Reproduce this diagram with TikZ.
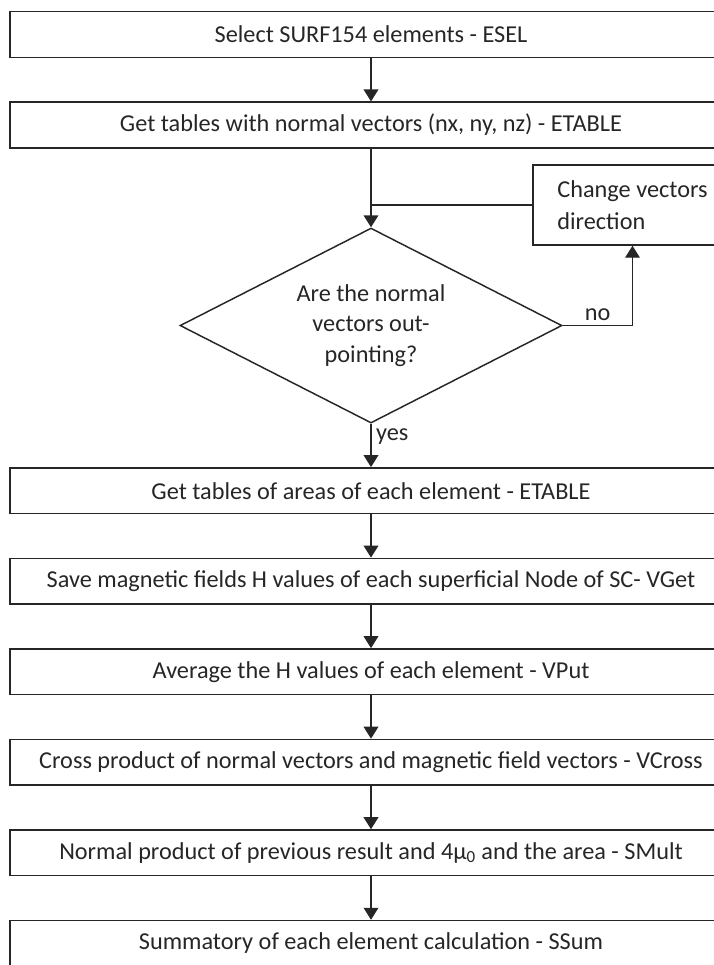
\documentclass[tikz,border=0pt]{standalone}
\usepackage{fontspec}
\setmainfont{Carlito}
\usetikzlibrary{positioning, arrows.meta, shapes.geometric}

\begin{document}
\begin{tikzpicture}[
    x=0.75pt, y=-0.75pt,
    node distance=32.5pt,
    block/.style={draw=black!85, line width=1.1pt, minimum height=34.3pt, minimum width=541.5pt, inner sep=3pt, font=\fontsize{18.2}{22}\selectfont, text=black!85},
    decision/.style={draw=black!85, line width=1.1pt, diamond, aspect=1.96, minimum width=286.5pt, minimum height=146.25pt, inner sep=0pt, align=center, font=\fontsize{18.2}{23}\selectfont, text=black!85},
    sidebox/.style={block, minimum width=149.25pt, minimum height=60pt, inner xsep=17pt, align=left, font=\fontsize{18.2}{24}\selectfont},
    arr/.style={-{Triangle[length=9pt, width=11pt]}, line width=1.1pt, draw=black!85},
    lbl/.style={font=\fontsize{18.2}{22}\selectfont, text=black!85},
  ]
    \clip (0,0) rectangle (714,965);

    % Steps down the page
    \node[block] (esel) at (371,34.5) {Select SURF154 elements - ESEL};
    \node[block, below=of esel] (normals) {Get tables with normal vectors (nx, ny, nz) - ETABLE};
    \node[decision, below=59pt of normals] (check) {Are the normal\\ vectors out-\\ pointing?};
    \node[block, below=of check] (areas) {Get tables of areas of each element - ETABLE};
    \node[block, below=of areas] (vget) {Save magnetic fields H values of each superficial Node of SC- VGet};
    \node[block, below=of vget] (vput) {Average the H values of each element - VPut};
    \node[block, below=of vput] (vcross) {Cross product of normal vectors and magnetic field vectors - VCross};
    \node[block, below=of vcross] (smult) {Normal product of previous result and 4μ\textsubscript{0} and the area - SMult};
    \node[block, below=of smult] (ssum) {Summatory of each element calculation - SSum};

    % Side loop
    \node[sidebox] (flip) at (632.5,205) {Change vectors\\ direction};
    \coordinate (join) at (normals.south |- flip.west);

    % Arrows
    \draw[arr] (esel) -- (normals);
    \draw[arr] (normals) -- (check);
    \draw[line width=1.1pt, draw=black!85] (flip.west) -- (join);
    \draw[arr] (check.east) -- node[lbl, above] {no} (check.east -| flip.south) -- (flip.south);
    \draw[arr] (check) -- node[lbl, right, pos=0.3] {yes} (areas);
    \draw[arr] (areas) -- (vget);
    \draw[arr] (vget) -- (vput);
    \draw[arr] (vput) -- (vcross);
    \draw[arr] (vcross) -- (smult);
    \draw[arr] (smult) -- (ssum);
  \end{tikzpicture}
\end{document}
